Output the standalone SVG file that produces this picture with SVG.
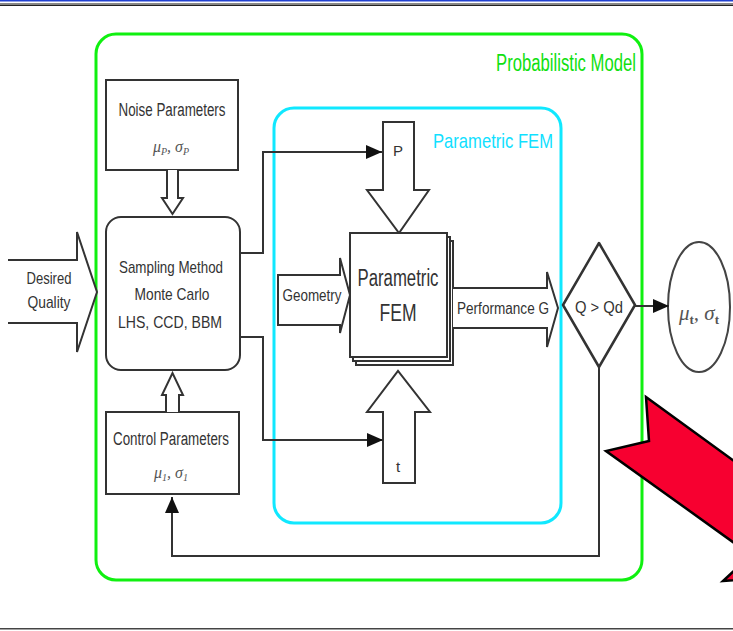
<svg xmlns="http://www.w3.org/2000/svg" width="733" height="631" viewBox="0 0 733 631">
<style>
.box{fill:#fff;stroke:#333;stroke-width:2}
.hollow{fill:#fff;stroke:#333;stroke-width:2;stroke-linejoin:miter}
.conn{fill:none;stroke:#333;stroke-width:2}
.t{font-family:"Liberation Sans",Arial,sans-serif;fill:#333;text-anchor:middle}
.sym{font-family:"Liberation Serif","Times New Roman",serif;font-style:italic;fill:#555;text-anchor:middle}
</style>
<defs>
<marker id="ah" viewBox="0 0 16 14" refX="16" refY="7" markerWidth="16" markerHeight="14" markerUnits="userSpaceOnUse" orient="auto">
<path d="M0,0 L16,7 L0,14 z" fill="#111"/>
</marker>
</defs>
<rect width="733" height="631" fill="#fff"/>
<rect x="0" y="0" width="733" height="1.5" fill="#2040d0"/>
<rect x="0" y="3" width="733" height="1.2" fill="#888"/>
<rect x="0" y="4.5" width="733" height="1.5" fill="#222"/>
<rect x="0" y="628" width="733" height="1.5" fill="#444"/>

<g id="probabilistic-model">
<rect x="96" y="34" width="546" height="546" rx="20" fill="none" stroke="#10f010" stroke-width="3"/>
<text x="636" y="71" style="font-family:'Liberation Sans',Arial,sans-serif;font-size:23px;fill:#10e010;text-anchor:end" textLength="140" lengthAdjust="spacingAndGlyphs">Probabilistic Model</text>
</g>

<g id="parametric-fem-region">
<rect x="274" y="108" width="287" height="415" rx="20" fill="none" stroke="#10e8ff" stroke-width="3"/>
<text x="493" y="148" style="font-family:'Liberation Sans',Arial,sans-serif;font-size:21px;fill:#10e0ff;text-anchor:middle" textLength="120" lengthAdjust="spacingAndGlyphs">Parametric FEM</text>
</g>

<g id="desired-quality">
<path class="hollow" d="M8,260 L77,260 L77,232 L97,292 L77,352 L77,323 L8,323"/>
<text class="t" x="49" y="284" font-size="17" textLength="45" lengthAdjust="spacingAndGlyphs">Desired</text>
<text class="t" x="49" y="308" font-size="17" textLength="43" lengthAdjust="spacingAndGlyphs">Quality</text>
</g>

<g id="noise-parameters">
<rect class="box" x="106" y="80" width="132" height="90"/>
<text class="t" x="172" y="116" font-size="18" textLength="107" lengthAdjust="spacingAndGlyphs">Noise Parameters</text>
<text class="sym" x="171" y="152" font-size="16">μ<tspan font-size="10" dy="3">P</tspan><tspan dy="-3">, σ</tspan><tspan font-size="10" dy="3">P</tspan></text>
<path class="hollow" d="M167,170 L167,198 L162,198 L172.5,214 L183,198 L178,198 L178,170"/>
</g>

<g id="sampling-method">
<rect class="box" x="106" y="217" width="134" height="153" rx="15"/>
<text class="t" x="171" y="273" font-size="17" textLength="104" lengthAdjust="spacingAndGlyphs">Sampling Method</text>
<text class="t" x="172" y="300" font-size="17" textLength="75" lengthAdjust="spacingAndGlyphs">Monte Carlo</text>
<text class="t" x="170" y="328" font-size="17" textLength="104" lengthAdjust="spacingAndGlyphs">LHS, CCD, BBM</text>
</g>

<g id="control-parameters">
<rect class="box" x="106" y="412" width="133" height="82"/>
<text class="t" x="171" y="445" font-size="18" textLength="116" lengthAdjust="spacingAndGlyphs">Control Parameters</text>
<text class="sym" x="171" y="478" font-size="16">μ<tspan font-size="10" dy="3">1</tspan><tspan dy="-3">, σ</tspan><tspan font-size="10" dy="3">1</tspan></text>
<path class="hollow" d="M166,412 L166,395 L162,395 L172.5,373 L183,395 L179,395 L179,412"/>
</g>

<g id="p-input">
<path class="hollow" d="M383,122 L414,122 L414,190 L429,190 L399,233 L367,190 L383,190 Z"/>
<text class="t" x="398" y="156" font-size="15">P</text>
</g>

<g id="t-input">
<path class="hollow" d="M383,483 L415,483 L415,412 L430,412 L398,371 L367,412 L383,412 Z"/>
<text class="t" x="398" y="472" font-size="15">t</text>
</g>

<g id="geometry-input">
<path class="hollow" d="M278,275 L340,275 L340,258 L350,295 L340,333 L340,325 L278,325 Z"/>
<text class="t" x="312" y="301" font-size="16" textLength="59" lengthAdjust="spacingAndGlyphs">Geometry</text>
</g>

<g id="parametric-fem">
<rect class="box" x="356" y="241" width="97" height="124"/>
<rect class="box" x="353" y="237" width="97" height="124"/>
<rect class="box" x="350" y="233" width="97" height="124"/>
<text class="t" x="398" y="286" font-size="23" textLength="81" lengthAdjust="spacingAndGlyphs">Parametric</text>
<text class="t" x="398" y="321" font-size="23" textLength="37" lengthAdjust="spacingAndGlyphs">FEM</text>
</g>

<g id="performance-output">
<path class="hollow" d="M453,288 L547,288 L547,272 L558,308 L547,347 L547,328 L453,328"/>
<text class="t" x="503" y="314" font-size="16" textLength="92" lengthAdjust="spacingAndGlyphs">Performance G</text>
</g>

<g id="decision">
<polygon points="599,243 635,305 599,367 563,305" fill="#fff" stroke="#333" stroke-width="2.5" stroke-linejoin="round"/>
<text class="t" x="599" y="313" font-size="16" textLength="48" lengthAdjust="spacingAndGlyphs">Q &gt; Qd</text>
</g>

<g id="result">
<ellipse cx="699" cy="307" rx="31" ry="65" fill="#fff" stroke="#444" stroke-width="2"/>
<text class="sym" x="699" y="320" font-size="21" fill="#444">μ<tspan font-size="13" dy="4" font-style="normal" font-weight="bold">t</tspan><tspan dy="-4">, σ</tspan><tspan font-size="13" dy="4" font-style="normal" font-weight="bold">t</tspan></text>
</g>

<g id="connectors">
<path class="conn" d="M240,253 L263,253 L263,152 L382,152" marker-end="url(#ah)"/>
<path class="conn" d="M240,337 L263,337 L263,440 L383,440" marker-end="url(#ah)"/>
<path class="conn" d="M635,306 L669,306" marker-end="url(#ah)"/>
<path class="conn" d="M599,367 L599,556 L172,556 L172,497" marker-end="url(#ah)"/>
</g>

<g id="red-arrow">
<polygon points="646,397 800,509 800,575 723,581 751,555 606,451 649,441" fill="#f70030" stroke="#000" stroke-width="2.5" stroke-linejoin="miter"/>
</g>
</svg>
